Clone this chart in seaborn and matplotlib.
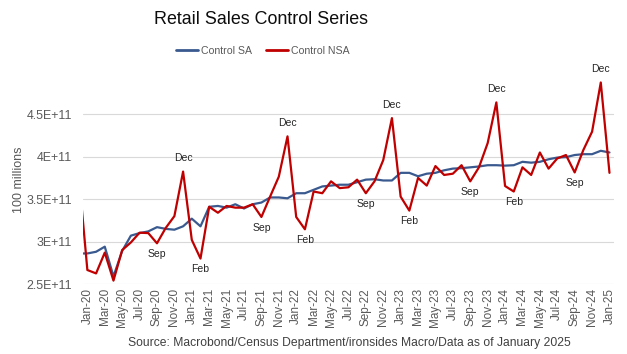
import pandas as pd
import numpy as np
import matplotlib
matplotlib.use('Agg')
import matplotlib.pyplot as plt
import seaborn as sns

# Dati mensili (Dec-19 .. Jan-25)
months = pd.date_range('2019-12-01', periods=62, freq='MS').strftime('%b-%y').tolist()

control_sa = [2.86e11,
              2.86e11, 2.88e11, 2.94e11, 2.59e11, 2.89e11, 3.07e11, 3.10e11, 3.12e11, 3.17e11, 3.15e11, 3.14e11, 3.18e11,
              3.27e11, 3.18e11, 3.41e11, 3.42e11, 3.40e11, 3.44e11, 3.39e11, 3.44e11, 3.46e11, 3.52e11, 3.52e11, 3.51e11,
              3.57e11, 3.57e11, 3.61e11, 3.65e11, 3.66e11, 3.67e11, 3.67e11, 3.70e11, 3.73e11, 3.735e11, 3.72e11, 3.72e11,
              3.81e11, 3.81e11, 3.77e11, 3.80e11, 3.81e11, 3.84e11, 3.86e11, 3.865e11, 3.875e11, 3.885e11, 3.90e11, 3.90e11,
              3.895e11, 3.90e11, 3.94e11, 3.93e11, 3.94e11, 3.97e11, 3.99e11, 3.995e11, 4.02e11, 4.03e11, 4.03e11, 4.07e11,
              4.05e11]

control_nsa = [3.80e11,
               2.665e11, 2.625e11, 2.87e11, 2.54e11, 2.90e11, 2.99e11, 3.105e11, 3.10e11, 2.98e11, 3.16e11, 3.30e11, 3.825e11,
               3.02e11, 2.80e11, 3.41e11, 3.34e11, 3.42e11, 3.40e11, 3.40e11, 3.44e11, 3.29e11, 3.53e11, 3.765e11, 4.24e11,
               3.29e11, 3.145e11, 3.59e11, 3.57e11, 3.71e11, 3.63e11, 3.64e11, 3.73e11, 3.57e11, 3.71e11, 3.96e11, 4.455e11,
               3.53e11, 3.365e11, 3.75e11, 3.66e11, 3.89e11, 3.785e11, 3.80e11, 3.90e11, 3.71e11, 3.875e11, 4.16e11, 4.64e11,
               3.655e11, 3.59e11, 3.875e11, 3.785e11, 4.05e11, 3.86e11, 3.98e11, 4.02e11, 3.815e11, 4.08e11, 4.295e11, 4.875e11,
               3.81e11]

dec_labels = ['Dec-20', 'Dec-21', 'Dec-22', 'Dec-23', 'Dec-24']
sep_labels = ['Sep-20', 'Sep-21', 'Sep-22', 'Sep-23', 'Sep-24']
feb_labels = ['Feb-21', 'Feb-22', 'Feb-23', 'Feb-24']

x_idx = np.arange(len(months)) - 1  # Jan-20 = 0
df = pd.DataFrame({'x': np.concatenate([x_idx, x_idx]),
                   'valore': control_sa + control_nsa,
                   'serie': ['Control SA'] * len(months) + ['Control NSA'] * len(months)})

sns.set_style('white')
plt.rcParams['font.family'] = ['Liberation Sans', 'DejaVu Sans']

fig = plt.figure(figsize=(6.27, 3.54), dpi=100)
ax = fig.add_axes([0.1324, 0.1977, 0.8466, 0.5873])
sns.lineplot(data=df, x='x', y='valore', hue='serie', ax=ax,
             palette={'Control SA': '#3A5A8F', 'Control NSA': '#C00000'},
             linewidth=1.6, legend=False)

ax.set_xlim(-0.5, 60.5)
ax.set_ylim(2.5e11, 4.95e11)
ax.set_yticks([2.5e11, 3e11, 3.5e11, 4e11, 4.5e11])
ax.set_yticklabels(['{:G}'.format(v) for v in ax.get_yticks()])
ax.set_xticks(x_idx[1::2])
ax.set_xticklabels(months[1::2], rotation=90)
ax.tick_params(axis='both', length=0, colors='#595959', labelsize=8.5)
ax.tick_params(axis='y', pad=8, labelsize=8.9)
ax.tick_params(axis='x', pad=3)
ax.grid(axis='y', color='#D9D9D9', linewidth=0.8)
ax.set_axisbelow(True)
for s in ['top', 'right', 'left', 'bottom']:
    ax.spines[s].set_visible(False)
ax.set_xlabel('')
ax.set_ylabel('100 millions', color='#595959', fontsize=9, labelpad=1)

# Etichette Dec / Sep / Feb
lookup = dict(zip(months, zip(x_idx, control_nsa)))
for m in dec_labels:
    xi, v = lookup[m]
    ax.annotate('Dec', (xi, v), xytext=(0, 6), textcoords='offset points',
                ha='center', va='bottom', fontsize=7.5, annotation_clip=False)
for m in sep_labels + feb_labels:
    xi, v = lookup[m]
    ax.annotate(m[:3], (xi, v), xytext=(0, -4), textcoords='offset points',
                ha='center', va='top', fontsize=7.5, annotation_clip=False)

fig.text(0.417, 0.945, 'Retail Sales Control Series', ha='center', va='center', fontsize=12.9, color='#0D0D0D')
handles = [plt.Line2D([], [], color='#3A5A8F', lw=2), plt.Line2D([], [], color='#C00000', lw=2)]
fig.legend(handles, ['Control SA', 'Control NSA'], loc='center', bbox_to_anchor=(0.419, 0.857), ncol=2,
           frameon=False, fontsize=7.6, labelcolor='#595959', handlelength=2.1, handletextpad=0.2, columnspacing=1.4)
fig.text(0.557, 0.03, 'Source: Macrobond/Census Department/ironsides Macro/Data as of January 2025',
         ha='center', va='center', fontsize=8.7, color='#404040')

fig.savefig('out.png', dpi=100)
